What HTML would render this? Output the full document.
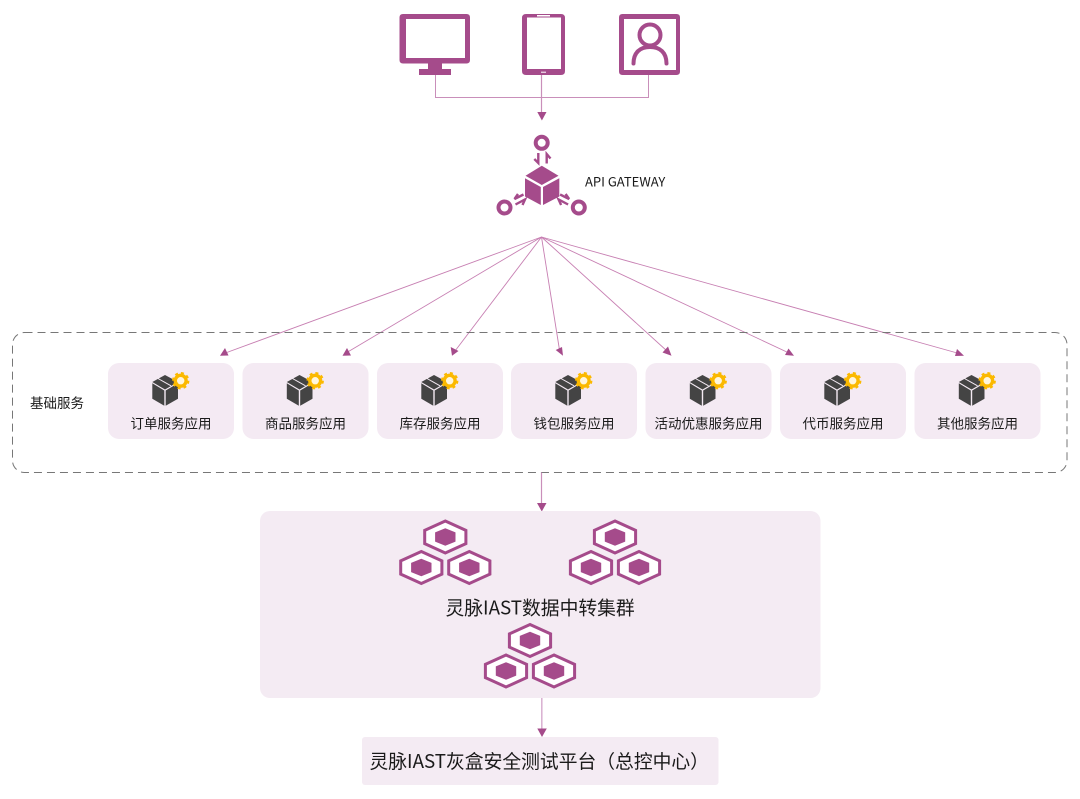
<!DOCTYPE html>
<html><head><meta charset="utf-8"><style>
html,body{margin:0;padding:0;background:#fff}
svg{display:block}
text{font-family:"Liberation Sans","Noto Sans CJK SC",sans-serif;fill:#1a1a1a}
.c{font-family:"Noto Sans CJK SC","Liberation Sans",sans-serif}
</style></head><body>
<svg width="1080" height="799" viewBox="0 0 1080 799" xmlns="http://www.w3.org/2000/svg">
<defs>
<g id="box">
<path d="M165 375 L178 382 L165 389.500 L152.300 382Z" fill="#444"/>
<path d="M152.300 383.300 L164.300 390.500 V405.800 L152.300 398.800Z" fill="#444"/>
<path d="M178 383.300 L165.700 390.500 V405.800 L178 398.800Z" fill="#444"/>
<path d="M158 378.500 L171 385.800" stroke="#f4eaf3" stroke-width="1" fill="none"/>
<circle cx="180.700" cy="380.700" r="5.400" fill="#fff6dc" stroke="#fbb900" stroke-width="3.400"/>
<circle cx="180.700" cy="380.700" r="7.700" fill="none" stroke="#fbb900" stroke-width="2" stroke-dasharray="3.040 3"/>
</g>
<g id="hex"><path d="M0 -16 L20.600 -6.600 V6.600 L0 16 L-20.600 6.600 V-6.600Z" fill="#fff" stroke="#a54b8b" stroke-width="3"/><path d="M0 -8.800 L10.200 -4.600 V4.600 L0 8.800 L-10.200 4.600 V-4.600Z" fill="#a54b8b"/></g>
<g id="cl"><use href="#hex" x="0" y="0"/><use href="#hex" x="-24" y="30.500"/><use href="#hex" x="24" y="30.500"/></g>
</defs>

<!-- device icons -->
<path fill-rule="evenodd" fill="#a54b8b" d="M403 14 H466.500 Q470 14 470 17.500 V60 Q470 63.500 466.500 63.500 H403 Q399.500 63.500 399.500 60 V17.500 Q399.500 14 403 14Z M406 19 V58 H465 V19Z"/>
<rect x="428" y="63" width="14" height="7" fill="#a54b8b"/>
<rect x="419" y="69" width="32" height="6" fill="#a54b8b"/>
<path fill-rule="evenodd" fill="#a54b8b" d="M526 14 H561 Q565 14 565 18 V71 Q565 75 561 75 H526 Q522 75 522 71 V18 Q522 14 526 14Z M527 17.500 V69 H561 V17.500Z"/>
<rect x="537" y="15" width="13" height="1.500" fill="#fff"/>
<rect x="541" y="71.700" width="5" height="1" fill="#fff"/>
<path fill-rule="evenodd" fill="#a54b8b" d="M622.500 14 H676.500 Q680 14 680 17.500 V71.500 Q680 75 676.500 75 H622.500 Q619 75 619 71.500 V17.500 Q619 14 622.500 14Z M624 19 V70 H676 V19Z"/>
<circle cx="650" cy="35" r="10.500" fill="none" stroke="#a54b8b" stroke-width="4"/>
<path d="M633.500 63.500 C633.500 52.500 640 47 650 47 C660 47 666.500 52.500 666.500 63.500" fill="none" stroke="#a54b8b" stroke-width="4" stroke-linecap="round"/>

<path d="M435.500 75 V97.500 H648.500 V75" fill="none" stroke="#c98fba" stroke-width="1"/>
<path d="M541.500 75 V113" fill="none" stroke="#c98fba" stroke-width="1.200"/>
<path d="M537.300 112 H546.500 L541.900 120.500Z" fill="#a54b8b"/>

<!-- gateway -->
<circle cx="541.700" cy="142.800" r="6" fill="none" stroke="#a54b8b" stroke-width="4"/>
<circle cx="504.500" cy="207.500" r="6" fill="none" stroke="#a54b8b" stroke-width="4"/>
<circle cx="578.800" cy="207.500" r="6" fill="none" stroke="#a54b8b" stroke-width="4"/>
<path d="M541.800 165.700 L558.500 175.700 L541.800 185 L525.500 175.700Z" fill="#a54b8b"/>
<path d="M525 178.200 L540.800 187 V205 L525 196.500Z" fill="#a54b8b"/>
<path d="M559.300 178.200 L543 187 V205 L559.300 196.500Z" fill="#a54b8b"/>
<g fill="none" stroke="#a54b8b" stroke-width="2.400">
<path d="M538.300 153 V163 L534.300 159"/>
<path d="M546.700 163.500 V154 L550.500 158.500"/>
<path d="M523.500 194.500 L514.500 199 L518 194"/>
<path d="M515.500 204.500 L525 199.500 L522.500 205"/>
<path d="M560.100 194.500 L569.100 199 L565.600 194"/>
<path d="M568.100 204.500 L558.600 199.500 L561.100 205"/>
</g>
<text class="c" x="585" y="186.500" font-size="13">API GATEWAY</text>

<!-- fan -->
<g stroke="#c77fb2" stroke-width="0.900" fill="none">
<path d="M541.500 237 L224 353.500"/><path d="M541.500 237 L346 353"/><path d="M541.500 237 L455 351"/><path d="M541.500 237 L559.500 350"/><path d="M541.500 237 L667 351"/><path d="M541.500 237 L789 353"/><path d="M541.500 237 L959 353.500"/>
</g>
<g fill="#a54b8b">
<path d="M220 355.700 L225 348 L228.500 355.500Z"/>
<path d="M342.500 355.700 L347 348 L351 355.500Z"/>
<path d="M452 355.700 L450.700 347 L458.500 351Z"/>
<path d="M563 355.700 L555.700 350 L562 347Z"/>
<path d="M671.500 355.700 L662.500 352.500 L668 346.500Z"/>
<path d="M794 355.700 L785 355 L788.500 348.500Z"/>
<path d="M964 355.700 L955 356 L957 349Z"/>
</g>

<!-- dashed group -->
<rect x="12.500" y="332.500" width="1054.500" height="140" rx="12" fill="none" stroke="#777" stroke-width="1" stroke-dasharray="8 5"/>
<text class="c" x="30" y="408" font-size="13.500">基础服务</text>

<g fill="#f4eaf3">
<rect x="108" y="363" width="126" height="76" rx="11"/>
<rect x="242.500" y="363" width="126" height="76" rx="11"/>
<rect x="377" y="363" width="126" height="76" rx="11"/>
<rect x="511" y="363" width="126" height="76" rx="11"/>
<rect x="645.500" y="363" width="126" height="76" rx="11"/>
<rect x="780" y="363" width="126" height="76" rx="11"/>
<rect x="914.500" y="363" width="126" height="76" rx="11"/>
</g>
<use href="#box" x="0"/><use href="#box" x="134.500"/><use href="#box" x="269"/><use href="#box" x="403"/><use href="#box" x="537.500"/><use href="#box" x="672"/><use href="#box" x="806.500"/>
<g class="c" font-size="13.500" text-anchor="middle">
<text class="c" x="171" y="428.500">订单服务应用</text>
<text class="c" x="305.500" y="428.500">商品服务应用</text>
<text class="c" x="440" y="428.500">库存服务应用</text>
<text class="c" x="574" y="428.500">钱包服务应用</text>
<text class="c" x="708.500" y="428.500">活动优惠服务应用</text>
<text class="c" x="843" y="428.500">代币服务应用</text>
<text class="c" x="977.500" y="428.500">其他服务应用</text>
</g>

<path d="M541.500 472.500 V504" stroke="#c98fba" stroke-width="1.200" fill="none"/>
<path d="M537 503 H546.500 L541.800 511.500Z" fill="#a54b8b"/>

<rect x="260" y="511" width="560.500" height="187" rx="10" fill="#f4ebf3"/>
<use href="#cl" x="445.300" y="537"/>
<use href="#cl" x="615" y="537"/>
<use href="#cl" x="530" y="640.500"/>
<text class="c" x="445.500" y="614.300" font-size="18.800">灵脉IAST数据中转集群</text>

<path d="M541.800 698 V730" stroke="#d9afd0" stroke-width="1.500" fill="none"/>
<path d="M537.300 728.500 H546.800 L542 737Z" fill="#a54b8b"/>
<rect x="362" y="737" width="356.500" height="48" rx="3" fill="#f4ebf3"/>
<text class="c" x="369.500" y="768" font-size="18.800">灵脉IAST灰盒安全测试平台（总控中心）</text>
</svg>
</body></html>
